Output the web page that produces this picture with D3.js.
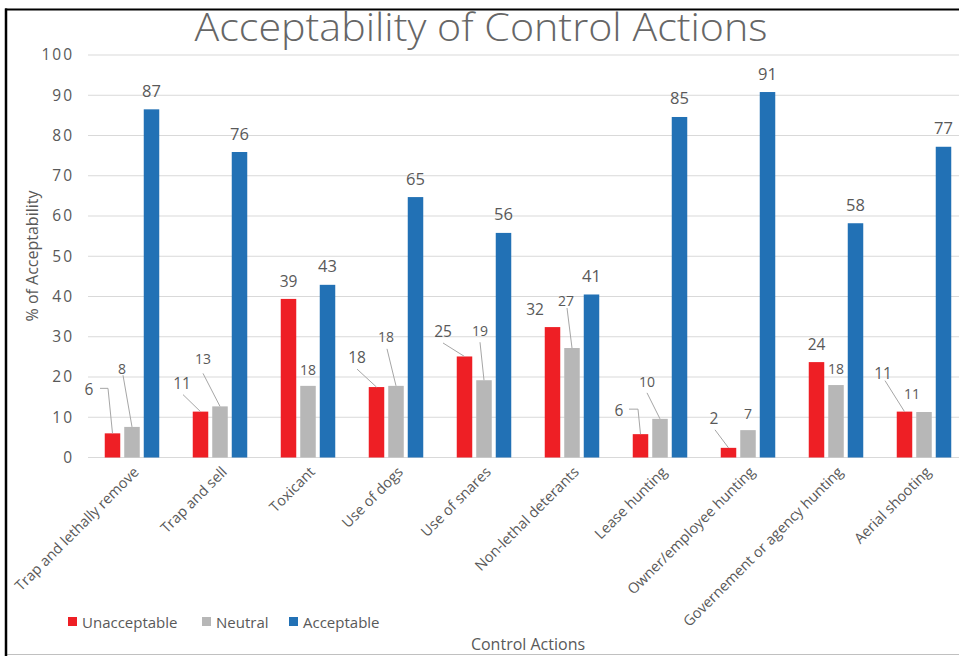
<!DOCTYPE html>
<html><head><meta charset="utf-8">
<script src="https://cdn.jsdelivr.net/npm/d3@7"></script>
<style>
html,body{margin:0;padding:0;background:#fff;}
svg{display:block;font-family:"Open Sans",sans-serif;}
</style></head>
<body>
<svg id="chart" width="959" height="656"></svg>
<script>
// ---- data ----
const categories = ["Trap and lethally remove","Trap and sell","Toxicant","Use of dogs","Use of snares","Non-lethal deterants","Lease hunting","Owner/employee hunting","Governement or agency hunting","Aerial shooting"];
const seriesNames = ["Unacceptable","Neutral","Acceptable"];
const unacceptable = [6.0, 11.4, 39.4, 17.5, 25.1, 32.4, 5.8, 2.4, 23.7, 11.4];
const neutral      = [7.6, 12.7, 17.8, 17.8, 19.2, 27.2, 9.6, 6.8, 18.0, 11.3];
const acceptable   = [86.5, 75.9, 42.9, 64.7, 55.8, 40.5, 84.6, 90.8, 58.2, 77.2];
const yTicks = [0,10,20,30,40,50,60,70,80,90,100];

// ---- label layout (offsets from bar top centre; leader start relative to label) ----
const labelLayout = {
  Unacceptable: [
    {dx:-23.5,dy:-44,lead:[[11,-1],[19,-1]]},
    {dx:-18.5,dy:-29,lead:[[1,12]]},
    {dx:0,dy:-18,lead:null},
    {dx:-19.5,dy:-30,lead:[[0,12]]},
    {dx:-21.5,dy:-25.5,lead:[[0,12]]},
    {dx:-17.5,dy:-18,lead:null},
    {dx:-21.5,dy:-24,lead:[[10,-1],[19,-1]]},
    {dx:-14.5,dy:-30,lead:[[1,12]]},
    {dx:0,dy:-18,lead:null},
    {dx:-21.5,dy:-39,lead:[[2,8]]}
  ],
  Neutral: [
    {dx:-10,dy:-58.7,lead:[[1,7]]},
    {dx:-17,dy:-48,lead:[[0,15]]},
    {dx:0,dy:-16,lead:null},
    {dx:-10,dy:-49,lead:[[1,12]]},
    {dx:-4,dy:-50,lead:[[0,12]]},
    {dx:-6,dy:-48,lead:[[1,8]]},
    {dx:-13,dy:-37,lead:[[0,11]]},
    {dx:0,dy:-17,lead:null},
    {dx:0,dy:-17,lead:null},
    {dx:-12,dy:-19,lead:null}
  ],
  Acceptable: categories.map(()=>({dx:0,dy:-19,lead:null}))
};

const colors = {Unacceptable:"#ee1f25", Neutral:"#b7b7b7", Acceptable:"#2271b5"};
const labelSize = {Unacceptable:15.5, Neutral:14, Acceptable:16.5};
const textColor = "#595959";

const seriesValues = {Unacceptable:unacceptable, Neutral:neutral, Acceptable:acceptable};

const svg = d3.select("#chart");
const W = 959, H = 656;

// frame
svg.append("line").attr("x1",6).attr("x2",W).attr("y1",654.5).attr("y2",654.5).attr("stroke","#c0c0c0").attr("stroke-width",1);

const x0 = d3.scaleBand().domain(categories).range([88, 968]).padding(0);
const x1 = d3.scaleBand().domain(seriesNames).range([0, 54.5]).paddingInner(0.205).paddingOuter(0);
const groupOff = (x0.bandwidth() - 54.5)/2;
const y = d3.scaleLinear().domain([0,100]).range([457.5, 55]);

// gridlines
svg.append("g").selectAll("line").data(yTicks).join("line")
  .attr("x1",88).attr("x2",W).attr("y1",d=>y(d)).attr("y2",d=>y(d))
  .attr("stroke","#d9d9d9").attr("stroke-width",1.2);

// y tick labels
const yAxis = d3.axisLeft(y).tickValues(yTicks).tickSize(0).tickPadding(0);
const yg = svg.append("g").attr("transform","translate(72,0)").call(yAxis);
yg.select(".domain").remove();
yg.selectAll("text").attr("fill",textColor).style("font-size","15.5px").style("font-family","'Open Sans',sans-serif").attr("letter-spacing","2px").attr("dx","2px");

// bars
const bars = [];
categories.forEach((c,i)=>{
  seriesNames.forEach(s=>{
    bars.push({cat:c, i, s, v:seriesValues[s][i]});
  });
});
svg.append("g").selectAll("rect").data(bars).join("rect")
  .attr("x",d=>x0(d.cat)+groupOff+x1(d.s))
  .attr("width",x1.bandwidth())
  .attr("y",d=>y(d.v))
  .attr("height",d=>y(0)-y(d.v))
  .attr("fill",d=>colors[d.s]);

// labels + leaders
const lg = svg.append("g");
bars.forEach(d=>{
  const bx = x0(d.cat)+groupOff+x1(d.s)+x1.bandwidth()/2;
  const by = y(d.v);
  const L = labelLayout[d.s][d.i];
  const lx = bx + L.dx, ly = by + L.dy;
  if (L.lead){
    const pts = L.lead.map(p=>[lx+p[0], ly+p[1]]);
    pts.push([bx, by]);
    lg.append("path").attr("d", d3.line()(pts)).attr("fill","none").attr("stroke","#a6a6a6").attr("stroke-width",1);
  }
  lg.append("text").attr("x",lx).attr("y",ly).attr("text-anchor","middle").attr("dominant-baseline","central")
    .attr("fill",textColor).style("font-size",labelSize[d.s]+"px").text(d3.format(".0f")(d.v));
});

// category labels
const xg = svg.append("g");
categories.forEach(c=>{
  const cx = x0(c)+x0.bandwidth()/2;
  xg.append("text").attr("transform",`translate(${cx+4},${469}) rotate(-45)`)
    .attr("text-anchor","end").attr("dominant-baseline","central")
    .attr("fill",textColor).style("font-size","14.5px").text(c);
});

// title
svg.append("text").attr("x",481).attr("y",41).attr("text-anchor","middle")
  .attr("fill","#666666").style("font-size","38px").style("font-weight","300")
  .attr("textLength",573).attr("lengthAdjust","spacingAndGlyphs")
  .text("Acceptability of Control Actions");

// axis titles
svg.append("text").attr("transform","translate(38,256) rotate(-90)").attr("text-anchor","middle")
  .attr("fill",textColor).style("font-size","16px").text("% of Acceptability");
svg.append("text").attr("x",528).attr("y",650).attr("text-anchor","middle")
  .attr("fill",textColor).style("font-size","16px").text("Control Actions");

// legend
const legX = [68, 202, 289];
seriesNames.forEach((s,k)=>{
  svg.append("rect").attr("x",legX[k]).attr("y",617).attr("width",9).attr("height",9).attr("fill",colors[s]);
  svg.append("text").attr("x",legX[k]+14).attr("y",621.5).attr("dominant-baseline","central")
    .attr("fill",textColor).style("font-size","15px").text(s);
});

// black frame edges
svg.append("line").attr("x1",5).attr("x2",W).attr("y1",9.5).attr("y2",9.5).attr("stroke","#000").attr("stroke-width",2);
svg.append("line").attr("x1",6).attr("x2",6).attr("y1",8.5).attr("y2",H).attr("stroke","#000").attr("stroke-width",2.5);
</script>
</body></html>
